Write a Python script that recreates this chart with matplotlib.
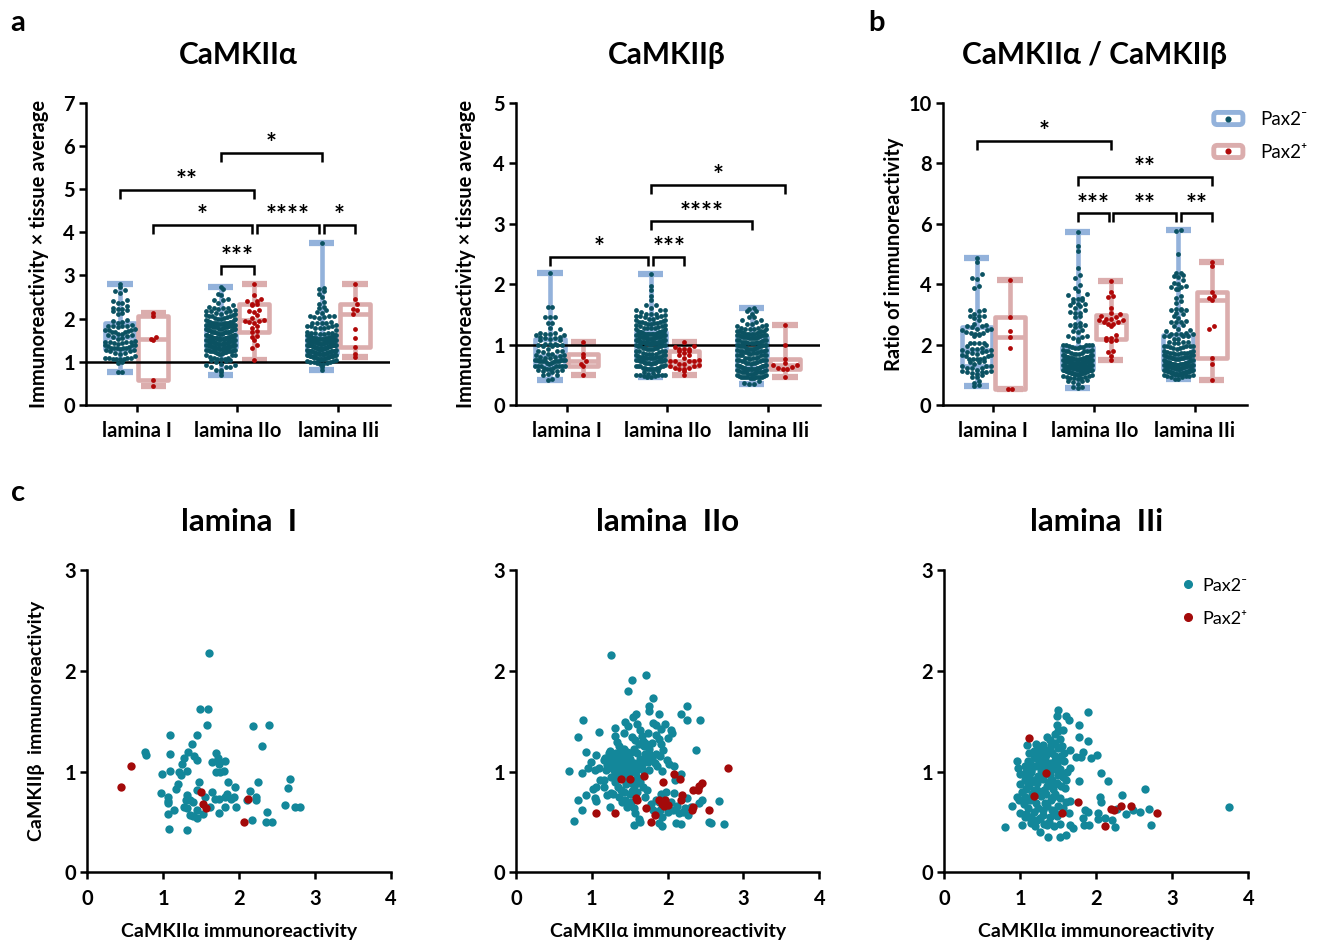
import matplotlib
matplotlib.use('Agg')
import matplotlib.pyplot as plt
import numpy as np
from matplotlib.lines import Line2D
from matplotlib.patches import FancyBboxPatch, Patch
from matplotlib.legend_handler import HandlerBase

plt.rcParams['font.family'] = ['Lato', 'Open Sans', 'DejaVu Sans']
plt.rcParams['font.weight'] = 'bold'
plt.rcParams['axes.labelweight'] = 'bold'

# ---------------- data: (CaMKIIalpha, CaMKIIbeta) per cell ----------------
laminae = ['lamina I', 'lamina IIo', 'lamina IIi']
scatter_titles = ['lamina  I', 'lamina  IIo', 'lamina  IIi']

lamI_neg = [(1.61,2.18),(1.48,1.62),(1.59,1.62),(1.58,1.46),(2.19,1.45),(2.40,1.46),(1.09,1.36),(1.44,1.36),
    (1.38,1.27),(2.30,1.25),(0.76,1.19),(0.77,1.16),(1.09,1.17),(1.33,1.19),(1.28,1.13),(1.41,1.15),(1.45,1.11),
    (1.70,1.18),(1.72,1.13),(1.65,1.09),(1.82,1.10),(1.74,1.07),(1.25,1.07),(0.99,0.98),(1.09,1.01),(1.21,1.00),
    (1.24,0.97),(1.31,1.01),(1.70,1.00),(1.75,1.00),(1.80,1.01),(1.47,0.90),(2.25,0.90),(2.67,0.93),(2.64,0.84),
    (1.17,0.83),(1.44,0.82),(0.97,0.79),(1.06,0.75),(1.07,0.71),(1.07,0.69),(1.32,0.77),(1.30,0.72),(1.36,0.72),
    (1.27,0.65),(1.32,0.64),(1.14,0.62),(1.06,0.58),(1.35,0.57),(1.39,0.56),(1.45,0.54),(1.45,0.62),(1.52,0.58),
    (1.62,0.65),(1.08,0.43),(1.32,0.42),(1.68,0.73),(1.74,0.73),(1.82,0.75),(1.84,0.78),(1.90,0.73),(1.93,0.75),
    (1.82,0.65),(1.96,0.65),(1.73,0.59),(2.14,0.81),(2.11,0.72),(2.23,0.72),(2.22,0.75),(2.17,0.52),(2.37,0.60),
    (2.36,0.50),(2.43,0.50),(2.60,0.67),(2.74,0.65),(2.81,0.65),(1.20,0.88),(1.40,0.70),(1.55,0.75),(1.65,0.80),
    (1.85,0.90),(1.95,0.85)]
lamI_pos = [(0.45,0.85),(0.57,1.05),(1.50,0.80),(1.52,0.68),(1.57,0.64),(2.07,0.50),(2.12,0.73)]

lamIIo_neg = [(1.25,2.16),(1.71,1.96),(1.53,1.91),(1.48,1.80),(1.81,1.73),(1.75,1.65),(1.75,1.60),(2.25,1.65),
    (2.17,1.57),(2.25,1.51),(2.43,1.51),(0.89,1.51),(0.82,1.34),(1.09,1.39),(1.30,1.43),(1.44,1.49),(1.58,1.57),
    (1.54,1.54),(1.88,1.57),(1.85,1.46),(1.81,1.48),(1.96,1.47),(1.91,1.42),(2.04,1.41),(2.06,1.38),(2.01,1.33),
    (1.60,1.47),(1.64,1.41),(1.48,1.45),(1.53,1.34),(1.57,1.31),(1.67,1.30),(1.74,1.38),(1.84,1.36),(1.88,1.32),
    (1.91,1.27),(1.80,1.28),(1.69,1.25),(1.31,1.35),(1.33,1.29),(1.36,1.25),(1.43,1.38),(1.42,1.22),(1.46,1.19),
    (1.60,1.18),(1.70,1.17),(1.77,1.16),(1.84,1.17),(1.94,1.21),(2.37,1.21),(0.92,1.19),(1.06,1.16),(1.23,1.18),
    (1.29,1.17),(1.23,1.13),(1.39,1.15),(1.51,1.12),(1.35,1.11),(1.27,1.09),(1.16,1.11),(0.99,1.09),(0.95,1.04),
    (1.09,1.04),(1.04,1.02),(0.87,0.99),(0.70,1.01),(1.19,1.02),(1.27,1.05),(1.34,1.03),(1.42,1.08),(1.48,1.03),
    (1.55,1.03),(1.49,0.98),(1.42,0.98),(1.35,0.98),(1.64,1.12),(1.74,1.09),(1.83,1.08),(1.75,1.02),(1.68,1.02),
    (1.99,1.11),(2.02,1.07),(2.09,1.05),(1.93,1.01),(2.10,0.92),(1.16,0.92),(1.11,0.92),(1.02,0.83),(1.06,0.85),
    (1.16,0.85),(0.92,0.77),(0.82,0.72),(1.04,0.74),(1.06,0.71),(1.20,0.77),(1.25,0.79),(1.24,0.65),(1.36,0.75),
    (1.44,0.72),(1.39,0.82),(1.53,0.81),(1.59,0.89),(1.53,0.89),(1.68,0.85),(1.73,0.82),(1.46,0.65),(1.55,0.64),
    (1.57,0.59),(1.62,0.53),(1.56,0.47),(1.63,0.50),(0.87,0.62),(0.76,0.51),(1.88,0.70),(1.91,0.78),(1.96,0.72),
    (1.81,0.62),(1.85,0.59),(1.93,0.55),(1.89,0.49),(1.93,0.46),(2.09,0.79),(2.07,0.62),(2.15,0.59),(2.11,0.49),
    (2.17,0.48),(2.23,0.64),(2.25,0.74),(2.27,0.57),(2.31,0.65),(2.42,0.69),(2.45,0.72),(2.55,0.50),(2.57,0.49),
    (2.68,0.71),(2.74,0.48),(2.18,0.98),
    (1.30,1.12),(1.33,1.05),(1.37,1.08),(1.40,1.13),(1.44,1.06),(1.47,1.09),(1.50,1.05),(1.52,1.00),(1.38,1.01),
    (1.31,0.99),(1.26,1.15),(1.22,1.10),(1.28,1.03),(1.45,1.15),(1.41,1.02),(1.36,1.14),(1.55,1.08),(1.58,1.01),
    (1.62,1.05),(1.48,0.95),(1.43,0.93),(1.35,0.94),(1.30,0.90),(1.25,0.95),(1.20,1.06),(1.18,1.13),(1.24,1.20),
    (1.32,1.18),(1.40,1.20),(1.50,1.18),(1.56,1.22),(1.62,1.27),(1.66,1.35),(1.70,1.28),(1.76,1.22),(1.80,1.12),
    (1.86,1.05),(1.90,1.15),(1.72,1.12),(1.68,1.08),(1.60,0.95),(1.64,0.90),(1.55,0.86),(1.50,0.78),(1.42,0.80),
    (1.34,0.85),(1.28,0.78),(1.40,0.70),(1.60,0.80),(1.70,0.75),(1.78,0.68),(1.85,0.72),(2.00,0.60),(2.05,0.70),
    (1.98,0.80),(2.12,0.66),(2.20,0.60),(1.90,0.62),(1.52,0.70),(1.45,0.88)]
lamIIo_pos = [(2.80,1.04),(2.08,0.98),(2.16,0.93),(1.69,0.96),(1.38,0.93),(1.51,0.93),(1.94,0.90),(2.45,0.89),
    (2.41,0.86),(2.40,0.82),(2.33,0.82),(2.19,0.77),(2.18,0.72),(1.58,0.74),(1.60,0.72),(1.89,0.72),(1.97,0.72),
    (1.92,0.68),(2.01,0.67),(1.95,0.66),(1.71,0.64),(2.34,0.65),(2.32,0.62),(2.55,0.62),(1.05,0.59),(1.31,0.59),
    (1.83,0.57),(1.78,0.50)]

lamIIi_neg = [(3.75,0.65),(1.50,1.61),(1.48,1.55),(1.61,1.55),(1.64,1.51),(1.89,1.59),(1.78,1.46),(1.48,1.46),
    (1.50,1.40),(1.46,1.37),(1.56,1.41),(1.78,1.34),(1.89,1.30),(1.35,1.34),(1.39,1.31),(1.09,1.26),(1.21,1.27),
    (1.30,1.26),(1.26,1.23),(1.39,1.22),(1.50,1.23),(1.55,1.25),(1.66,1.21),(1.12,1.18),(1.18,1.20),(1.36,1.19),
    (1.46,1.15),(1.54,1.15),(1.73,1.14),(1.83,1.19),(1.80,1.14),(1.93,1.13),(2.01,1.16),(0.96,1.10),(0.97,1.04),
    (1.13,1.08),(1.21,1.13),(1.26,1.08),(1.33,1.12),(1.39,1.05),(1.46,1.10),(1.58,1.10),(1.66,1.04),(1.52,1.03),
    (1.00,0.98),(1.07,0.99),(1.14,1.00),(1.29,0.98),(1.39,0.97),(1.50,0.97),(1.57,0.95),(2.07,0.99),(2.16,0.91),
    (1.78,0.91),(1.06,0.92),(1.13,0.89),(1.22,0.89),(1.38,0.90),(1.46,0.88),(1.08,0.83),(1.18,0.82),(1.31,0.82),
    (1.43,0.83),(1.59,0.84),(2.64,0.83),(0.96,0.75),(1.07,0.75),(1.13,0.72),(1.21,0.69),(1.33,0.69),(1.43,0.75),
    (1.50,0.66),(1.66,0.71),(2.05,0.75),(2.07,0.70),(2.34,0.77),(0.89,0.66),(1.00,0.59),(1.07,0.55),(1.02,0.47),
    (1.15,0.55),(1.26,0.54),(1.15,0.49),(1.31,0.48),(1.39,0.55),(1.35,0.47),(1.46,0.59),(1.26,0.40),(1.37,0.35),
    (1.53,0.35),(1.61,0.37),(1.53,0.48),(1.66,0.47),(1.69,0.44),(1.64,0.59),(1.86,0.62),(1.83,0.54),(1.84,0.47),
    (1.90,0.47),(1.89,0.60),(2.03,0.59),(2.03,0.53),(2.12,0.54),(2.21,0.52),(2.25,0.45),(2.27,0.63),(2.39,0.58),
    (2.49,0.62),(2.58,0.60),(2.69,0.63),(2.72,0.47),(0.80,0.45),
    (1.10,1.10),(1.15,1.02),(1.20,1.05),(1.24,1.12),(1.28,1.02),(1.32,1.06),(1.36,1.00),(1.40,1.08),(1.44,1.03),
    (1.48,1.07),(1.52,1.12),(1.42,1.18),(1.34,1.16),(1.26,1.18),(1.18,1.15),(1.12,0.95),(1.18,0.92),(1.24,0.96),
    (1.30,0.93),(1.36,0.86),(1.42,0.92),(1.48,0.89),(1.54,0.86),(1.60,0.92),(1.10,0.86),(1.16,0.78),(1.22,0.82),
    (1.28,0.76),(1.34,0.78),(1.40,0.72),(1.46,0.78),(1.52,0.74),(1.02,0.80),(1.05,0.68),(1.10,0.64),(1.18,0.60),
    (1.24,0.64),(1.30,0.62),(1.36,0.66),(1.42,0.62),(1.48,0.56),(1.56,0.64),(1.60,0.70),(1.08,0.58),(1.14,0.52),
    (1.22,0.52),(1.30,0.57),(1.38,0.50),(1.44,0.46),(1.20,0.46),(0.98,0.72),(1.00,0.88),(1.06,1.05),(1.46,1.28),
    (1.52,1.32),(1.40,1.26),(1.32,1.22),(1.58,1.18),(1.62,1.00),(1.56,0.98)]
lamIIi_pos = [(1.12,1.33),(1.34,0.99),(1.18,0.76),(1.76,0.70),(1.55,0.59),(2.19,0.63),(2.23,0.62),(2.33,0.66),
    (2.46,0.66),(2.80,0.59),(2.11,0.46)]

neg_sets = [lamI_neg, lamIIo_neg, lamIIi_neg]
pos_sets = [lamI_pos, lamIIo_pos, lamIIi_pos]

# ---------------- styles ----------------
TEAL_DOT = '#0b5262'
RED_DOT = '#b00808'
BOX_BLUE = '#93b2db'
BOX_PINK = '#dbadad'
SC_TEAL = '#13879a'
SC_RED = '#a30a0a'
W, H = 1320, 941
TICK_FS = 14.5
LABEL_FS = 14.5

fig = plt.figure(figsize=(W / 100, H / 100), dpi=100)

def add_ax(l, t, r, b):
    return fig.add_axes([l / W, 1 - b / H, (r - l) / W, (b - t) / H])

def style_ax(ax):
    for s in ['top', 'right']:
        ax.spines[s].set_visible(False)
    for s in ['left', 'bottom']:
        ax.spines[s].set_linewidth(1.8)
    ax.tick_params(width=1.8, length=5, labelsize=TICK_FS, pad=3)

def swarm_offsets(vals, row_h, dot_w, max_half):
    vals = np.asarray(vals, float)
    off = np.zeros(len(vals))
    rows = np.floor(vals / row_h).astype(int)
    for r in np.unique(rows):
        idx = np.where(rows == r)[0]
        idx = idx[np.argsort(vals[idx])]
        n = len(idx)
        if n == 1:
            continue
        step = dot_w if (n - 1) * dot_w <= 2 * max_half else 2 * max_half / (n - 1)
        slots = (np.arange(n) - (n - 1) / 2) * step
        order = np.argsort(np.abs(slots), kind='stable')
        off[idx] = slots[order]
    return off

def stats(vals):
    v = np.asarray(vals, float)
    q1, med, q3 = np.percentile(v, [25, 50, 75], method='weibull')
    return dict(med=med, q1=q1, q3=q3, whislo=v.min(), whishi=v.max(), fliers=[])

def top_panel(ax, neg_vals, pos_vals, ymax, yticks, refline):
    style_ax(ax)
    ax.set_xlim(-0.503, 2.513)
    ax.set_ylim(0, ymax)
    ax.set_yticks(yticks)
    ax.set_xticks([0, 1, 2])
    ax.set_xticklabels(laminae, fontsize=TICK_FS)
    ax.tick_params(axis='x', pad=6.5)
    dot_px = 4.8
    row_h = dot_px * ymax / 302.3 * 1.05
    dot_w = dot_px / 100.8
    for g in range(3):
        for vals, off, bc, dc in [(neg_vals[g], -0.165, BOX_BLUE, TEAL_DOT),
                                  (pos_vals[g], 0.165, BOX_PINK, RED_DOT)]:
            lw = 3.3
            ax.bxp([stats(vals)], positions=[g + off], widths=0.30, showfliers=False,
                   patch_artist=True, manage_ticks=False, capwidths=0.25,
                   boxprops=dict(facecolor='white', edgecolor=bc, linewidth=lw, joinstyle='round'),
                   medianprops=dict(color=bc, linewidth=lw),
                   whiskerprops=dict(color=bc, linewidth=lw),
                   capprops=dict(color=bc, linewidth=lw + 1.2, solid_capstyle='butt'))
            o = swarm_offsets(vals, row_h, dot_w, 0.145)
            ax.scatter(g + off + o, vals, s=12, c=dc, linewidths=0, zorder=4)
    if refline:
        ax.axhline(1, color='black', lw=1.8, zorder=3)

def bracket(ax, x1, x2, y, h, text):
    ax.plot([x1, x1, x2, x2], [y - h, y, y, y - h], color='black', lw=1.8, clip_on=False,
            solid_joinstyle='miter', solid_capstyle='butt', zorder=5)
    ax.annotate(text, xy=((x1 + x2) / 2, y), xytext=(0, 0.5), textcoords='offset points',
                ha='center', va='baseline', fontsize=18.5, fontweight='bold', annotation_clip=False)

alpha_neg = [[p[0] for p in s] for s in neg_sets]
alpha_pos = [[p[0] for p in s] for s in pos_sets]
beta_neg = [[p[1] for p in s] for s in neg_sets]
beta_pos = [[p[1] for p in s] for s in pos_sets]
ratio_neg = [[p[0] / p[1] for p in s] for s in neg_sets]
ratio_pos = [[p[0] / p[1] for p in s] for s in pos_sets]

# ---- panel a (alpha) ----
ax1 = add_ax(86, 102.7, 390, 405)
top_panel(ax1, alpha_neg, alpha_pos, 7, range(0, 8), True)
ax1.set_ylabel('Immunoreactivity × tissue average', fontsize=LABEL_FS)
ax1.yaxis.set_label_coords(-0.122, 0.5)
for x1, x2, y, t in [(0.835, 1.835, 5.84, '*'), (-0.165, 1.165, 4.99, '**'), (0.165, 1.14, 4.17, '*'),
                     (1.19, 1.81, 4.17, '****'), (1.86, 2.165, 4.17, '*'), (0.835, 1.165, 3.22, '***')]:
    bracket(ax1, x1, x2, y, 0.21, t)

# ---- panel a (beta) ----
ax2 = add_ax(516, 102.7, 820, 405)
top_panel(ax2, beta_neg, beta_pos, 5, range(0, 6), True)
ax2.set_ylabel('Immunoreactivity × tissue average', fontsize=LABEL_FS)
ax2.yaxis.set_label_coords(-0.132, 0.5)
for x1, x2, y, t in [(0.835, 2.165, 3.64, '*'), (0.835, 1.835, 3.04, '****'),
                     (-0.165, 0.81, 2.45, '*'), (0.86, 1.165, 2.45, '***')]:
    bracket(ax2, x1, x2, y, 0.15, t)

# ---- panel b (ratio) ----
ax3 = add_ax(942.7, 102.7, 1246.7, 405)
top_panel(ax3, ratio_neg, ratio_pos, 10, range(0, 11, 2), False)
ax3.set_ylabel('Ratio of immunoreactivity', fontsize=LABEL_FS)
ax3.yaxis.set_label_coords(-0.128, 0.5)
for x1, x2, y, t in [(-0.165, 1.165, 8.74, '*'), (0.835, 2.165, 7.55, '**'), (0.835, 1.145, 6.34, '***'),
                     (1.19, 1.815, 6.34, '**'), (1.86, 2.165, 6.34, '**')]:
    bracket(ax3, x1, x2, y, 0.3, t)

class BoxHandler(HandlerBase):
    def __init__(self, edge, dot):
        super().__init__()
        self.edge, self.dot = edge, dot
    def create_artists(self, legend, orig_handle, xdescent, ydescent, width, height, fontsize, trans):
        p = FancyBboxPatch((-xdescent + 2, -ydescent + 1), width - 4, height - 2,
                           boxstyle='round,pad=0,rounding_size=2.5', fc='white', ec=self.edge, lw=3.5,
                           transform=trans)
        d = Line2D([width / 2 - xdescent], [height / 2 - ydescent], marker='o', ms=3.4, color=self.dot,
                   ls='none', transform=trans)
        return [p, d]

h_neg, h_pos = Patch(), Patch()
fig.legend([h_neg, h_pos], ['Pax2⁻', 'Pax2⁺'],
           handler_map={h_neg: BoxHandler(BOX_BLUE, TEAL_DOT), h_pos: BoxHandler(BOX_PINK, RED_DOT)},
           loc='upper left', bbox_to_anchor=(1211 / W, 1 - 111 / H), frameon=False,
           prop=dict(size=13.5, weight='normal'), handlelength=1.85, handleheight=0.85,
           handletextpad=0.75, labelspacing=0.85, borderpad=0, borderaxespad=0)

# ---- panel c (scatter) ----
for i, (l, r) in enumerate([(87.3, 390.7), (516, 819.3), (944, 1248.3)]):
    ax = add_ax(l, 570, r, 872.3)
    style_ax(ax)
    ax.tick_params(axis='x', pad=7)
    ax.set_xlim(0, 4)
    ax.set_ylim(0, 3)
    ax.set_xticks(range(5))
    ax.set_yticks(range(4))
    ax.scatter([p[0] for p in neg_sets[i]], [p[1] for p in neg_sets[i]], s=36, c=SC_TEAL, linewidths=0,
               clip_on=False, zorder=3)
    ax.scatter([p[0] for p in pos_sets[i]], [p[1] for p in pos_sets[i]], s=36, c=SC_RED, linewidths=0,
               clip_on=False, zorder=4)
    ax.set_xlabel('CaMKIIα immunoreactivity', fontsize=LABEL_FS - 0.5, labelpad=10)
    fig.text((l + r) / 2 / W, 1 - 531 / H, scatter_titles[i], ha='center', va='baseline',
             fontsize=22.5, fontweight='bold')
    if i == 0:
        ax.set_ylabel('CaMKIIβ  immunoreactivity', fontsize=LABEL_FS - 0.5)
        ax.yaxis.set_label_coords(-0.14, 0.5)
    if i == 2:
        ax.legend(handles=[Line2D([], [], marker='o', ls='none', color=SC_TEAL, ms=5.5),
                           Line2D([], [], marker='o', ls='none', color=SC_RED, ms=5.5)],
                  labels=['Pax2⁻', 'Pax2⁺'], loc='upper left',
                  bbox_to_anchor=((1181 - 944) / 304.3, 0.975), frameon=False,
                  prop=dict(size=13, weight='normal'), handlelength=0.8, handletextpad=0.4,
                  labelspacing=0.95, borderpad=0, borderaxespad=0)

# ---- titles and panel letters ----
fig.text(238 / W, 1 - 64 / H, 'CaMKIIα', ha='center', va='baseline', fontsize=21.5, fontweight='bold')
fig.text(667 / W, 1 - 64 / H, 'CaMKIIβ', ha='center', va='baseline', fontsize=21.5, fontweight='bold')
fig.text(1094 / W, 1 - 64 / H, 'CaMKIIα / CaMKIIβ', ha='center', va='baseline', fontsize=21.5, fontweight='bold')
for t, x, y in [('a', 18, 31), ('b', 876, 31), ('c', 18, 501)]:
    fig.text(x / W, 1 - y / H, t, ha='center', va='baseline', fontsize=21, fontweight='bold')

fig.savefig('out.png', dpi=100)
